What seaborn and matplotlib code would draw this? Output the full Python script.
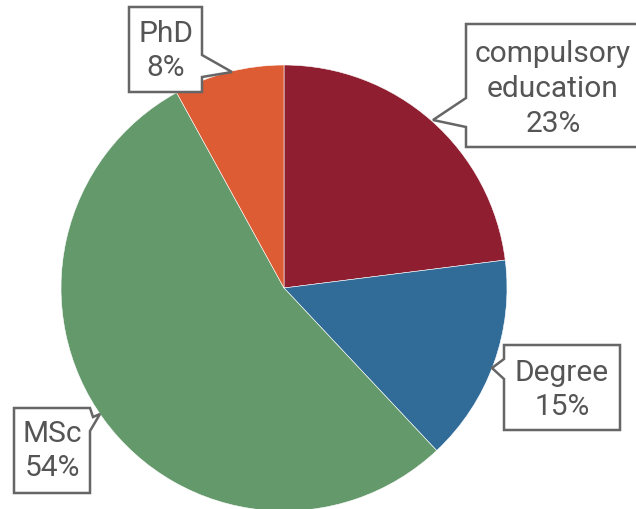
import matplotlib
matplotlib.use("Agg")
import matplotlib.pyplot as plt
import seaborn as sns
from matplotlib.patches import Polygon

# data
categories = ["compulsory\neducation", "Degree", "MSc", "PhD"]
shares = [23, 15, 54, 8]
colors = ["#8E1E30", "#316C98", "#64996C", "#DD5C33"]

W, H = 636, 510

# callout outlines in pixel coords (x, y from top), and text centres
callouts = {
    "compulsory\neducation": dict(
        outline=[(466, 25), (645, 25), (645, 148), (466, 148), (466, 128), (433, 121), (466, 99)],
        text=(553, 89)),
    "Degree": dict(
        outline=[(504, 346), (620, 346), (620, 431), (504, 431), (504, 380), (492, 369), (504, 360)],
        text=(562, 390)),
    "MSc": dict(
        outline=[(14, 409), (90, 409), (93, 418), (100, 415), (90, 432), (90, 494), (14, 494)],
        text=(52, 451)),
    "PhD": dict(
        outline=[(129, 8), (202, 8), (202, 56), (232, 73), (202, 78), (202, 93), (129, 93)],
        text=(166, 51)),
}

sns.set_theme(style="white")
plt.rcParams["font.family"] = ["Roboto", "DejaVu Sans"]

fig = plt.figure(figsize=(W / 100, H / 100), dpi=100)
ax = fig.add_axes([0, 0, 1, 1])

ax.pie(shares, colors=colors, startangle=90, counterclock=False,
       center=(284, H - 289), radius=223,
       wedgeprops=dict(edgecolor="white", linewidth=0.4))

for cat, share in zip(categories, shares):
    c = callouts[cat]
    pts = [(x, H - y) for x, y in c["outline"]]
    ax.add_patch(Polygon(pts, closed=True, facecolor="white",
                         edgecolor="#666666", linewidth=1.8, zorder=5))
    tx, ty = c["text"]
    ax.text(tx, H - ty, f"{cat}\n{share}%", ha="center", va="center",
            fontsize=21.5, color="#555555", linespacing=1.3, zorder=6)

ax.set_xlim(0, W)
ax.set_ylim(0, H)
ax.set_aspect("equal")
ax.axis("off")

fig.savefig("out.png", dpi=100, facecolor="white")
